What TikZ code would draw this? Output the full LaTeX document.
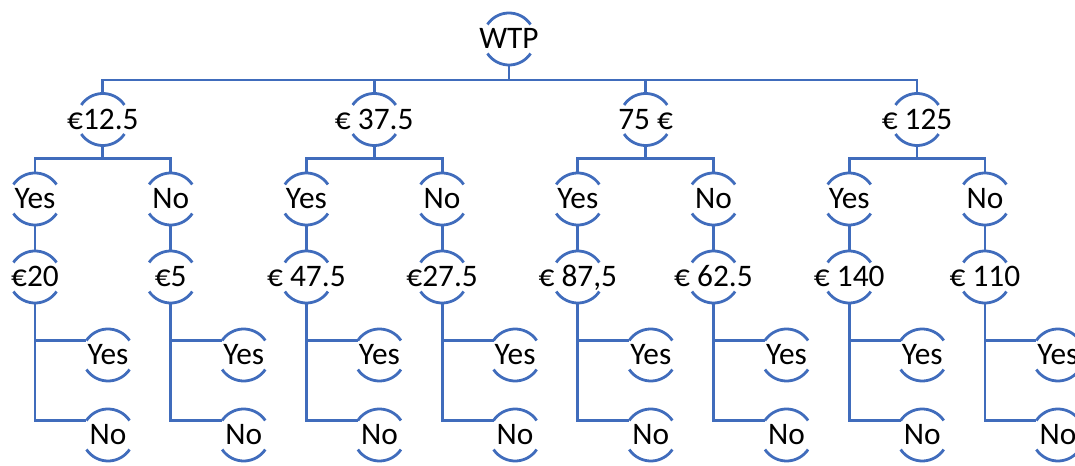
\documentclass[tikz,border=0pt]{standalone}
\usepackage{fontspec}
\setmainfont{Carlito}
\usetikzlibrary{calc}
\definecolor{treeblue}{RGB}{64,108,188}
\tikzset{
	arcnode/.style={circle,minimum size=39pt,inner sep=0pt,outer sep=0pt,
		font=\fontsize{23.5}{28}\selectfont,text height=14.8pt,text depth=0pt,
		execute at begin node={\hbox to 0pt\bgroup\hss},
		execute at end node={\hss\egroup}},
	arcline/.style={treeblue,line width=2.1pt},
	link/.style={treeblue,line width=2.1pt}
}
\begin{document}
\begin{tikzpicture}[x=0.75pt,y=0.75pt]
		\useasboundingbox (0,0) rectangle (1075,-466);
		\node[arcnode] (wtp) at (509,-39) {WTP};
		\draw[arcline] (wtp.34) arc[start angle=34,end angle=146,radius=19.5pt]
			(wtp.214) arc[start angle=214,end angle=326,radius=19.5pt];
		\foreach \g/\first/\high/\low in {1/{€12.5}/{€20}/{€5},2/{€ 37.5}/{€ 47.5}/{€27.5},
			3/{75 €}/{€ 87,5}/{€ 62.5},4/{€ 125}/{€ 140}/{€ 110}} {
			\pgfmathsetmacro\xl{35+(2*\g-2)*135.7}
			\pgfmathsetmacro\xr{\xl+135.7}
			\node[arcnode] (q\g) at ({(\xl+\xr)/2},-119.5) {\first};
			\node[arcnode] (qy\g) at (\xl,-199) {Yes};
			\node[arcnode] (qn\g) at (\xr,-199) {No};
			\node[arcnode] (by\g) at (\xl,-277) {\high};
			\node[arcnode] (bn\g) at (\xr,-277) {\low};
			\node[arcnode] (byy\g) at (\xl+73,-355) {Yes};
			\node[arcnode] (byn\g) at (\xl+73,-435) {No};
			\node[arcnode] (bny\g) at (\xr+73,-355) {Yes};
			\node[arcnode] (bnn\g) at (\xr+73,-435) {No};
			% arcs round every label
			\foreach \n in {q\g,qy\g,qn\g,by\g,bn\g,byy\g,byn\g,bny\g,bnn\g}
				\draw[arcline] (\n.34) arc[start angle=34,end angle=146,radius=19.5pt]
					(\n.214) arc[start angle=214,end angle=326,radius=19.5pt];
			% connectors
			\draw[link] (wtp.south) -- ++(0,-15) -| (q\g.north);
			\draw[link] (q\g.south) -- ++(0,-13) -| (qy\g.north);
			\draw[link] (q\g.south) -- ++(0,-13) -| (qn\g.north);
			\draw[link] (qy\g.south) -- (by\g.north);
			\draw[link] (qn\g.south) -- (bn\g.north);
			\draw[link] (by\g.south) |- (byy\g.146);
			\draw[link] (by\g.south) |- (byn\g.146);
			\draw[link] (bn\g.south) |- (bny\g.146);
			\draw[link] (bn\g.south) |- (bnn\g.146);
		}
	\end{tikzpicture}
\end{document}
